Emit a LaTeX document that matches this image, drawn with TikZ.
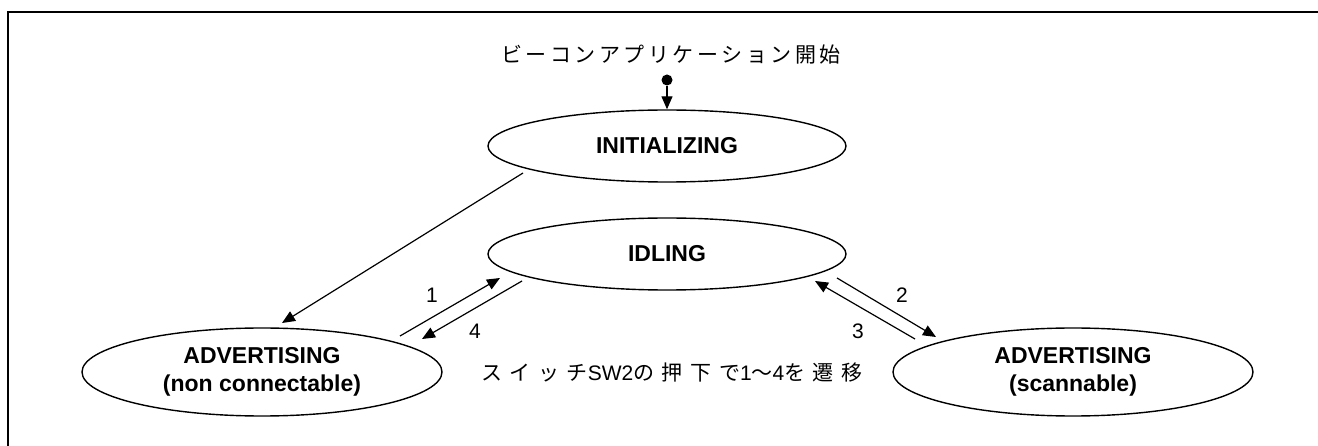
\documentclass[tikz,border=0pt]{standalone}
\usepackage{fontspec}
\setmainfont{Liberation Sans}
\newfontfamily\jptitle[LetterSpace=17]{Noto Sans CJK JP}
\newfontfamily\jpnote[LetterSpace=36]{Noto Sans CJK JP}
\usetikzlibrary{shapes.geometric,arrows.meta}
\tikzset{
  state/.style={draw, ellipse, line width=1.4pt, inner sep=0pt,
    minimum width=358pt, minimum height=72pt, align=center,
    font=\fontsize{23}{28}\selectfont\bfseries},
  wide/.style={minimum width=360pt, minimum height=88pt},
  arr/.style={line width=1.2pt, -{Triangle[length=13pt,width=11pt]}},
  num/.style={font=\fontsize{21}{21}\selectfont, inner sep=0pt},
  frame/.style={line width=2pt}
}
\begin{document}
\begin{tikzpicture}[x=1pt,y=-1pt]
  \useasboundingbox (0,0) rectangle (1318,446);
  % open frame: top and left edges only
  \coordinate (fc) at (8,12);
  \coordinate (fr) at (1320,12);
  \coordinate (fb) at (8,448);
  \draw[frame] (fr) -- (fc) -- (fb);

  % start label and initial pseudo-state
  \node[inner sep=0pt, font=\fontsize{21}{21}\selectfont\jptitle] (title) at (671,55) {ビーコンアプリケーション開始};
  \node[circle, fill=black, inner sep=0pt, minimum size=11pt] (start) at (667,80) {};

  % states
  \node[state] (init) at (667,146) {INITIALIZING};
  \node[state] (idle) at (667,254) {IDLING};
  \node[state, wide] (advnc) at (262,372) {ADVERTISING\\(non connectable)};
  \node[state, wide] (advsc) at (1073,372) {ADVERTISING\\(scannable)};

  \draw[arr] (start) -- (init.north);

  % transition end points
  \coordinate (i0) at (523,173);
  \coordinate (i1) at (282,323);
  \coordinate (a1s) at (400,336);
  \coordinate (a1e) at (500,278);
  \coordinate (a4s) at (522,281);
  \coordinate (a4e) at (422,339);
  \coordinate (a2s) at (837,278);
  \coordinate (a2e) at (936,337);
  \coordinate (a3s) at (915,339);
  \coordinate (a3e) at (815,281);

  \draw[arr] (i0) -- (i1);
  \draw[arr] (a1s) -- (a1e);
  \draw[arr] (a4s) -- (a4e);
  \draw[arr] (a2s) -- (a2e);
  \draw[arr] (a3s) -- (a3e);

  \node[num] (n1) at (432,295) {1};
  \node[num] (n4) at (475,331) {4};
  \node[num] (n2) at (902,295) {2};
  \node[num] (n3) at (858,331) {3};

  \node[inner sep=0pt, anchor=west, font=\fontsize{21}{21}\selectfont] (note) at (481,373)
    {{\jpnote スイッチ}SW2{\jpnote の押下で}1{\jpnote ～}4{\jpnote を遷移}};
\end{tikzpicture}
\end{document}
